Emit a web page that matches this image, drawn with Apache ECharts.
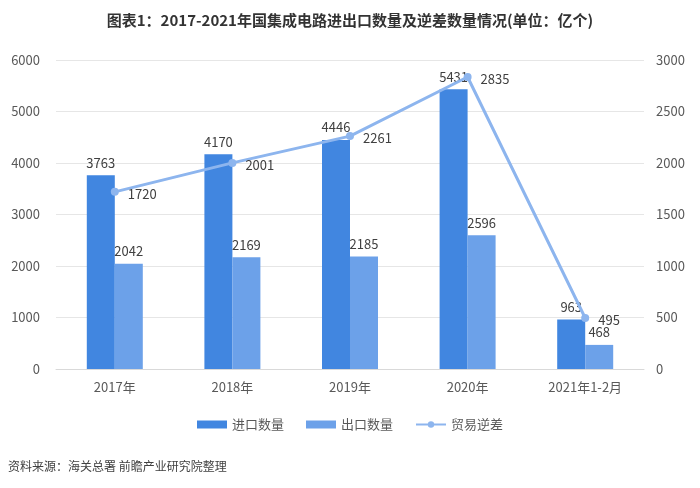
<!DOCTYPE html>
<html><head><meta charset="utf-8">
<script src="https://cdn.jsdelivr.net/npm/echarts@6/dist/echarts.min.js"></script>
<style>html,body{margin:0;padding:0;background:#fff}#c{width:700px;height:488px}</style>
</head><body><div id="c"></div>
<script>
const categories = ['2017年','2018年','2019年','2020年','2021年1-2月'];
const importQty = [3763, 4170, 4446, 5431, 963];
const exportQty = [2042, 2169, 2185, 2596, 468];
const tradeDeficit = [1720, 2001, 2261, 2835, 495];
const leftTicks = {min:0, max:6000, interval:1000};
const rightTicks = {min:0, max:3000, interval:500};

const font = '"Noto Sans CJK SC","Noto Sans",sans-serif';
const chart = echarts.init(document.getElementById('c'), null, {renderer:'canvas'});
chart.setOption({
  animation:false,
  textStyle:{fontFamily:font},
  title:{text:'图表1：2017-2021年国集成电路进出口数量及逆差数量情况(单位：亿个)', left:'center', top:8,
    textStyle:{fontFamily:font, fontSize:15, fontWeight:'bold', color:'#333'}},
  graphic:[{type:'text', left:8, top:460, style:{text:'资料来源：海关总署 前瞻产业研究院整理', font:'12px '+font, fill:'#404040'}}],
  legend:{bottom:52, left:'center', itemWidth:30, itemHeight:8, itemGap:22,
    textStyle:{fontSize:13, color:'#595959', fontFamily:font},
    data:[{name:'进口数量', icon:'rect'},{name:'出口数量', icon:'rect'},{name:'贸易逆差'}]},
  grid:{left:56, right:56, top:60, bottom:119},
  xAxis:{type:'category', data:categories, axisTick:{show:false},
    axisLine:{lineStyle:{color:'#d9d9d9'}},
    axisLabel:{fontSize:13, color:'#595959', margin:12}},
  yAxis:[
    {type:'value', min:leftTicks.min, max:leftTicks.max, interval:leftTicks.interval,
     axisLabel:{fontSize:13, color:'#595959', margin:16, formatter:v=>String(v)},
     splitLine:{lineStyle:{color:'#e6e6e6'}}, axisLine:{show:false}},
    {type:'value', min:rightTicks.min, max:rightTicks.max, interval:rightTicks.interval,
     axisLabel:{fontSize:13, color:'#595959', margin:12, formatter:v=>String(v)},
     splitLine:{show:false}, axisLine:{show:false}}
  ],
  series:[
    {name:'进口数量', type:'bar', data:importQty, barWidth:28, barGap:'0%', itemStyle:{color:'#4186e0'},
     label:{show:true, position:'top', fontSize:13, color:'#404040', distance:6}},
    {name:'出口数量', type:'bar', data:exportQty, barWidth:28, itemStyle:{color:'#6ca1e9'},
     label:{show:true, position:'top', fontSize:13, color:'#404040', distance:6}},
    {name:'贸易逆差', type:'line', yAxisIndex:1, data:tradeDeficit, symbol:'circle', symbolSize:8,
     lineStyle:{width:3, color:'#8db5ee'}, itemStyle:{color:'#8db5ee'},
     label:{show:true, position:'right', fontSize:13, color:'#404040', distance:9, offset:[0,2]}}
  ]
});
</script></body></html>
